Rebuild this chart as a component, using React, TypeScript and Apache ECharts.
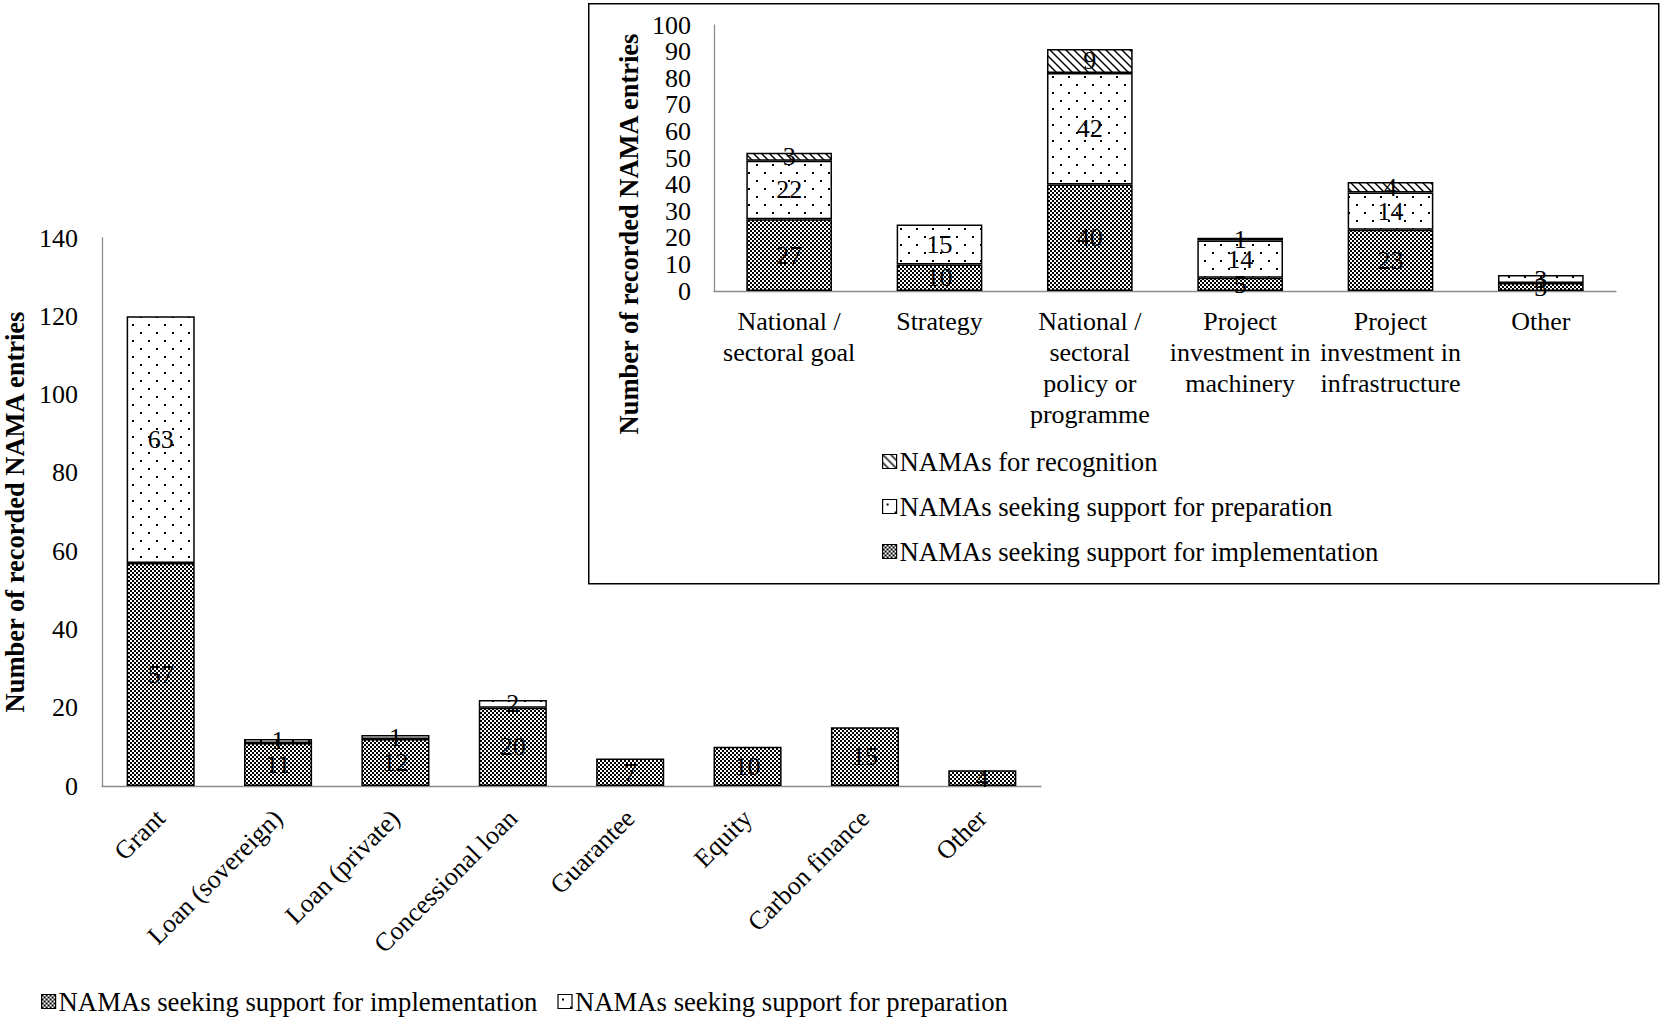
import React, { useEffect, useRef } from "react";
import * as echarts from "echarts";

// ---------- Data ----------
const mainCategories = [
  "Grant",
  "Loan (sovereign)",
  "Loan (private)",
  "Concessional loan",
  "Guarantee",
  "Equity",
  "Carbon finance",
  "Other",
];
const mainImplementation = [57, 11, 12, 20, 7, 10, 15, 4];
const mainPreparation = [63, 1, 1, 2, 0, 0, 0, 0];
const mainYMax = 140;
const mainYInterval = 20;

const insetCategories = [
  "National / sectoral goal",
  "Strategy",
  "National / sectoral policy or programme",
  "Project investment in machinery",
  "Project investment in infrastructure",
  "Other",
];
const insetTickLabels = [
  "National /\nsectoral goal",
  "Strategy",
  "National /\nsectoral\npolicy or\nprogramme",
  "Project\ninvestment in\nmachinery",
  "Project\ninvestment in\ninfrastructure",
  "Other",
];
const insetImplementation = [27, 10, 40, 5, 23, 3];
const insetPreparation = [22, 15, 42, 14, 14, 3];
const insetRecognition = [3, 0, 9, 1, 4, 0];
const insetYMax = 100;
const insetYInterval = 10;

const NAME_IMPL = "NAMAs seeking support for implementation";
const NAME_PREP = "NAMAs seeking support for preparation";
const NAME_RECOG = "NAMAs for recognition";
const AXIS_TITLE = "Number of recorded NAMA entries";

const FONT = "'Liberation Serif', 'Times New Roman', serif";
const FS = 26;

// ---------- Patterns ----------
function makeCanvas(w: number, h: number, draw: (ctx: CanvasRenderingContext2D) => void) {
  const c = document.createElement("canvas");
  c.width = w;
  c.height = h;
  const ctx = c.getContext("2d")!;
  ctx.fillStyle = "#fff";
  ctx.fillRect(0, 0, w, h);
  draw(ctx);
  return c.toDataURL();
}

function checkerPattern() {
  const src = makeCanvas(4, 4, (ctx) => {
    ctx.fillStyle = "#000";
    ctx.fillRect(0, 0, 2, 2);
    ctx.fillRect(2, 2, 2, 2);
  });
  return { image: src, repeat: "repeat", imageWidth: 4, imageHeight: 4 } as any;
}

function dotPattern() {
  const src = makeCanvas(16, 16, (ctx) => {
    ctx.fillStyle = "#000";
    ctx.fillRect(4, 4, 2, 2);
    ctx.fillRect(12, 12, 2, 2);
  });
  return { image: src, repeat: "repeat", imageWidth: 16, imageHeight: 16 } as any;
}

function hatchPattern() {
  const src = makeCanvas(8, 8, (ctx) => {
    ctx.strokeStyle = "#000";
    ctx.lineWidth = 1.4;
    for (const k of [-8, 0, 8]) {
      ctx.beginPath();
      ctx.moveTo(k - 2, -2);
      ctx.lineTo(k + 10, 10);
      ctx.stroke();
    }
  });
  return { image: src, repeat: "repeat", imageWidth: 8, imageHeight: 8 } as any;
}

const toBarData = (arr: number[]) => arr.map((v) => (v === 0 ? "-" : v));

export default function App() {
  const ref = useRef<HTMLDivElement>(null);

  useEffect(() => {
    if (!ref.current) return;
    const chart = echarts.init(ref.current, undefined, { renderer: "svg" });

    const implFill = checkerPattern();
    const prepFill = dotPattern();
    const recogFill = hatchPattern();

    const labelStyle = {
      show: true,
      position: "inside",
      color: "#000",
      fontFamily: FONT,
      fontSize: FS,
      textBorderWidth: 0,
      formatter: (p: any) => (p.value && p.value !== "-" ? String(p.value) : ""),
    };
    const barItem = (fill: any) => ({
      color: fill,
      borderColor: "#000",
      borderWidth: 1.5,
    });

    const axisLineStyle = { color: "#8c8c8c", width: 1.3 };
    const tickText = { color: "#000", fontFamily: FONT, fontSize: FS };
    const titleText = { color: "#000", fontFamily: FONT, fontSize: 26.5, fontWeight: "bold" };
    const legendText = { color: "#000", fontFamily: FONT, fontSize: 26.7, padding: [0, 0, 0, -2] };

    const option: any = {
      animation: false,
      backgroundColor: "#fff",
      textStyle: { fontFamily: FONT },
      grid: [
        { left: 102, top: 238, right: 620, bottom: 231, containLabel: false, outerBoundsMode: "none" },
        { left: 714, top: 25, right: 45, bottom: 726, containLabel: false, outerBoundsMode: "none" },
      ],
      xAxis: [
        {
          type: "category",
          gridIndex: 0,
          data: mainCategories,
          axisTick: { show: false },
          axisLine: { show: true, lineStyle: axisLineStyle },
          axisLabel: { ...tickText, rotate: 45, margin: 28, interval: 0 },
        },
        {
          type: "category",
          gridIndex: 1,
          data: insetCategories,
          axisTick: { show: false },
          axisLine: { show: true, lineStyle: axisLineStyle },
          axisLabel: {
            ...tickText,
            interval: 0,
            margin: 15,
            lineHeight: 31,
            formatter: (_v: string, i: number) => insetTickLabels[i],
          },
        },
      ],
      yAxis: [
        {
          type: "value",
          gridIndex: 0,
          min: 0,
          max: mainYMax,
          interval: mainYInterval,
          splitLine: { show: false },
          axisTick: { show: false },
          axisLine: { show: true, lineStyle: axisLineStyle },
          axisLabel: { ...tickText, margin: 24 },
          name: AXIS_TITLE,
          nameLocation: "middle",
          nameRotate: 90,
          nameGap: 67,
          nameTextStyle: titleText,
        },
        {
          type: "value",
          gridIndex: 1,
          min: 0,
          max: insetYMax,
          interval: insetYInterval,
          splitLine: { show: false },
          axisTick: { show: false },
          axisLine: { show: true, lineStyle: axisLineStyle },
          axisLabel: { ...tickText, margin: 23, hideOverlap: false },
        },
      ],
      legend: [
        {
          left: 36,
          top: 983,
          itemWidth: 14,
          itemHeight: 14,
          itemGap: 20,
          icon: "rect",
          data: [NAME_IMPL, NAME_PREP],
          textStyle: legendText,
          itemStyle: { borderColor: "#000", borderWidth: 1.2 },
        },
        {
          orient: "vertical",
          left: 877,
          top: 443,
          itemWidth: 14,
          itemHeight: 14,
          itemGap: 18,
          icon: "rect",
          data: [NAME_RECOG, NAME_PREP, NAME_IMPL],
          textStyle: legendText,
          itemStyle: { borderColor: "#000", borderWidth: 1.2 },
        },
      ],
      graphic: [
        {
          type: "rect",
          left: 588,
          top: 3,
          shape: { width: 1070, height: 580 },
          style: { fill: "transparent", stroke: "#000", lineWidth: 1.5 },
          z: -1,
        },
        {
          type: "text",
          x: 629,
          y: 234,
          rotation: Math.PI / 2,
          style: {
            text: AXIS_TITLE,
            fill: "#000",
            font: `bold 26.5px ${FONT}`,
            align: "center",
            verticalAlign: "middle",
          },
        },
      ],
      series: [
        {
          name: NAME_IMPL,
          type: "bar",
          xAxisIndex: 0,
          yAxisIndex: 0,
          stack: "main",
          barCategoryGap: "42%",
          data: toBarData(mainImplementation),
          itemStyle: barItem(implFill),
          label: labelStyle,
        },
        {
          name: NAME_PREP,
          type: "bar",
          xAxisIndex: 0,
          yAxisIndex: 0,
          stack: "main",
          barCategoryGap: "42%",
          data: toBarData(mainPreparation),
          itemStyle: barItem(prepFill),
          label: labelStyle,
        },
        {
          name: NAME_IMPL,
          type: "bar",
          xAxisIndex: 1,
          yAxisIndex: 1,
          stack: "inset",
          barCategoryGap: "43%",
          data: toBarData(insetImplementation),
          itemStyle: barItem(implFill),
          label: labelStyle,
        },
        {
          name: NAME_PREP,
          type: "bar",
          xAxisIndex: 1,
          yAxisIndex: 1,
          stack: "inset",
          barCategoryGap: "43%",
          data: toBarData(insetPreparation),
          itemStyle: barItem(prepFill),
          label: labelStyle,
        },
        {
          name: NAME_RECOG,
          type: "bar",
          xAxisIndex: 1,
          yAxisIndex: 1,
          stack: "inset",
          barCategoryGap: "43%",
          data: toBarData(insetRecognition),
          itemStyle: barItem(recogFill),
          label: labelStyle,
        },
      ],
    };

    chart.setOption(option);
    return () => chart.dispose();
  }, []);

  return (
    <div
      ref={ref}
      style={{ position: "absolute", left: 0, top: 0, width: 1661, height: 1017, background: "#fff" }}
    />
  );
}
